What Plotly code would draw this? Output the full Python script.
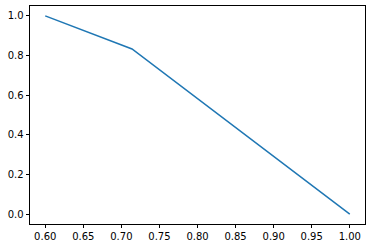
import plotly.graph_objects as go

x_vals = [0.60, 0.714, 1.00]
y_vals = [1.0, 0.833, 0.0]
x_ticks = [0.60, 0.65, 0.70, 0.75, 0.80, 0.85, 0.90, 0.95, 1.00]
x_tick_labels = ["0.60", "0.65", "0.70", "0.75", "0.80", "0.85", "0.90", "0.95", "1.00"]
y_ticks = [0.0, 0.2, 0.4, 0.6, 0.8, 1.0]
y_tick_labels = ["0.0", "0.2", "0.4", "0.6", "0.8", "1.0"]

fig = go.Figure()
fig.add_trace(go.Scatter(x=x_vals, y=y_vals, mode="lines",
                         line=dict(color="#1f77b4", width=1.5)))

axis_common = dict(showline=True, linecolor="black", linewidth=0.8, mirror=True,
                   ticks="outside", ticklen=3.5, tickwidth=0.8, tickcolor="black",
                   showgrid=False, zeroline=False,
                   tickfont=dict(family="DejaVu Sans", size=10, color="black"))

fig.update_layout(
    width=372, height=248,
    margin=dict(l=30, r=7, t=6, b=24),
    paper_bgcolor="white", plot_bgcolor="white",
    showlegend=False,
    xaxis=dict(range=[0.58, 1.02], tickvals=x_ticks, ticktext=x_tick_labels, **axis_common),
    yaxis=dict(range=[-0.05, 1.05], tickvals=y_ticks, ticktext=y_tick_labels, **axis_common),
)

fig.write_html("out.html")
